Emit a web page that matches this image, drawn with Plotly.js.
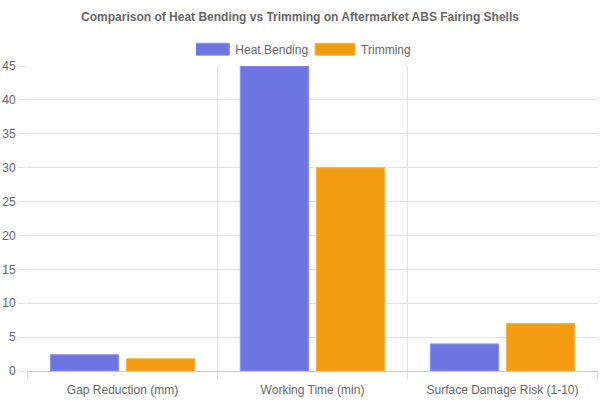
<!DOCTYPE html>
<html>
<head>
<meta charset="utf-8">
<script src="https://cdn.plot.ly/plotly-3.0.1.min.js"></script>
<style>
  html, body { margin: 0; padding: 0; background: #fff; }
  #chart { width: 600px; height: 400px; }
</style>
</head>
<body>
<div id="chart"></div>
<script>
var categories = ['Gap Reduction (mm)', 'Working Time (min)', 'Surface Damage Risk (1-10)'];
var heatBending = [2.4, 45, 4];
var trimming = [1.8, 30, 7];

var traces = [
    {
        x: categories,
        y: heatBending,
        type: 'bar',
        name: 'Heat Bending',
        marker: {
            color: 'rgb(108, 117, 225)',
            line: { color: 'rgb(140, 148, 235)', width: 1 }
        },
        hoverinfo: 'none'
    },
    {
        x: categories,
        y: trimming,
        type: 'bar',
        name: 'Trimming',
        marker: {
            color: 'rgb(243, 156, 18)',
            line: { color: 'rgb(246, 178, 70)', width: 1 }
        },
        hoverinfo: 'none'
    }
];

// short tick marks under each category boundary
var tickShapes = [];
for (let i = 0; i <= categories.length; i++) {
    tickShapes.push({
        type: 'line',
        xref: 'x',
        yref: 'paper',
        x0: i - 0.5,
        x1: i - 0.5,
        y0: 0,
        y1: -0.027,
        line: { color: '#e5e5e5', width: 1 },
        layer: 'below'
    });
}

var layout = {
    width: 600,
    height: 400,
    margin: { l: 27, r: 2, t: 66, b: 29 },
    paper_bgcolor: '#fff',
    plot_bgcolor: '#fff',
    font: { family: 'Liberation Sans, Arial, sans-serif', size: 12, color: '#666' },
    title: {
        text: '<b>Comparison of Heat Bending vs Trimming on Aftermarket ABS Fairing Shells</b>',
        font: { size: 12, color: '#666' },
        x: 0.5,
        xanchor: 'center',
        y: 0.957,
        yanchor: 'middle'
    },
    showlegend: true,
    legend: {
        orientation: 'h',
        x: 0.5,
        xanchor: 'center',
        y: 1.055,
        yanchor: 'middle',
        font: { size: 12, color: '#666' },
        itemwidth: 40
    },
    barmode: 'group',
    bargap: 0.2,
    bargroupgap: 0.1,
    shapes: tickShapes,
    xaxis: {
        type: 'category',
        tickson: 'boundaries',
        showgrid: true,
        gridcolor: '#e5e5e5',
        ticks: '',
        showline: false,
        tickfont: { size: 12, color: '#666' },
        automargin: false
    },
    yaxis: {
        range: [0, 45],
        dtick: 5,
        showgrid: true,
        gridcolor: '#e5e5e5',
        ticks: 'outside',
        ticklen: 8,
        tickcolor: '#e5e5e5',
        zeroline: true,
        zerolinecolor: '#c8c8c8',
        zerolinewidth: 1,
        showline: false,
        tickfont: { size: 12, color: '#666' },
        automargin: false
    }
};

function fixLayout(gd) {
    // push category labels down a little
    gd.querySelectorAll('.xaxislayer-above .xtick').forEach(function(g) {
        g.setAttribute('transform', 'translate(0,10)');
    });

    // wide 40x12 legend boxes, laid out like the original
    var items = gd.querySelectorAll('.legend .traces');
    var boxW = 40, gapText = 6, gapItem = 7;
    var widths = [];
    items.forEach(function(it) {
        var t = it.querySelector('.legendtext');
        widths.push(t.getBoundingClientRect().width);
    });
    var total = 0;
    widths.forEach(function(w) { total += boxW + gapText + w; });
    total += gapItem * (widths.length - 1);
    var x = 300 - total / 2;
    items.forEach(function(it, i) {
        var p = it.querySelector('.legendpoints path');
        var t = it.querySelector('.legendtext');
        p.setAttribute('d', 'M-20,-6h40v12h-40z');
        p.removeAttribute('transform');
        var pr = p.getBoundingClientRect();
        p.setAttribute('transform', 'translate(' + (x - pr.left) + ',0)');
        x += boxW + gapText;
        var tr = t.getBoundingClientRect();
        t.setAttribute('transform', 'translate(' + (x - tr.left) + ',0)');
        x += widths[i] + gapItem;
    });
}

Plotly.newPlot('chart', traces, layout, { displayModeBar: false, staticPlot: true }).then(function(gd) {
    setTimeout(function() { fixLayout(gd); }, 0);
});
</script>
</body>
</html>
